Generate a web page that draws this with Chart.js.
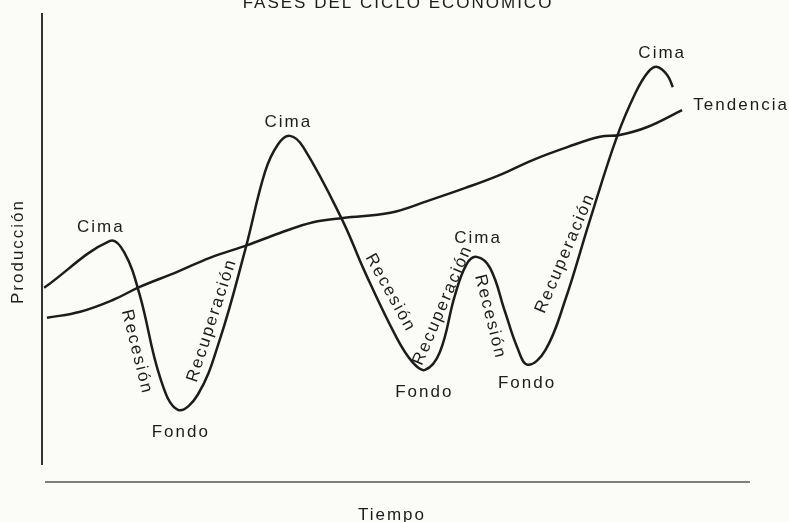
<!DOCTYPE html>
<html>
<head>
<meta charset="utf-8">
<script src="https://cdn.jsdelivr.net/npm/chart.js@4/dist/chart.umd.min.js"></script>
<style>
  html, body { margin: 0; padding: 0; background: #fbfbf7; }
  #wrap { width: 789px; height: 522px; }
</style>
</head>
<body>
<div id="wrap"><canvas id="chart" width="789" height="522"></canvas></div>
<script>
// time / output readings of the business cycle curve
const cycleTime = [0.3, 9.6, 11.6, 13.8, 16.7, 19.2, 22.0, 25.1, 28.7, 31.5, 33.3, 35.0, 36.9, 42.4, 45.6, 49.9, 52.3, 54.1, 56.2, 58.3, 60.0, 61.4, 63.3, 65.4, 67.1, 68.6, 71.1, 73.9, 77.4, 81.2, 83.8, 85.6, 86.9, 88.3, 89.1];
const cycleOutput = [41.4, 51.4, 49.0, 39.9, 22.2, 15.4, 18.6, 30.3, 49.5, 66.1, 71.9, 73.8, 71.4, 55.9, 44.8, 31.3, 25.6, 23.9, 27.7, 39.7, 46.5, 48.0, 45.6, 36.3, 28.8, 25.0, 28.1, 38.8, 55.9, 73.6, 82.9, 87.4, 88.5, 86.8, 84.2];

// long-run trend
const trendTime = [0.7, 5.4, 10.0, 13.8, 19.1, 23.7, 29.0, 33.6, 38.3, 42.5, 49.2, 54.8, 59.8, 64.7, 69.4, 74.2, 78.8, 81.6, 85.5, 90.4];
const trendOutput = [35.0, 36.3, 38.8, 41.6, 44.8, 47.8, 50.5, 53.1, 55.4, 56.3, 57.4, 60.1, 62.7, 65.5, 68.7, 71.4, 73.6, 74.0, 75.7, 79.3];

const chartTitle = 'FASES DEL CICLO ECONÓMICO';
const xTitle = 'Tiempo';
const yTitle = 'Producción';

// phase labels, placed in data units
const notes = [
  { text: 'Cima', x: 8.3, y: 54.4, angle: 0 },
  { text: 'Recesión', x: 13.4, y: 27.7, angle: 76 },
  { text: 'Fondo', x: 19.6, y: 10.7, angle: 0 },
  { text: 'Recuperación', x: 24.0, y: 34.5, angle: -72 },
  { text: 'Cima', x: 34.8, y: 76.6, angle: 0 },
  { text: 'Recesión', x: 49.2, y: 40.3, angle: 61 },
  { text: 'Fondo', x: 54.0, y: 19.2, angle: 0 },
  { text: 'Recuperación', x: 56.6, y: 37.7, angle: -67 },
  { text: 'Cima', x: 61.6, y: 52.0, angle: 0 },
  { text: 'Recesión', x: 63.3, y: 35.2, angle: 76 },
  { text: 'Fondo', x: 68.5, y: 21.1, angle: 0 },
  { text: 'Recuperación', x: 73.9, y: 48.8, angle: -67 },
  { text: 'Cima', x: 87.6, y: 91.5, angle: 0 },
  { text: 'Tendencia', x: 92.0, y: 80.4, angle: 0, align: 'left' },
];

const ink = '#1c1c1c';
const font = '17px "Liberation Sans", Arial, sans-serif';

const toPoints = (xs, ys) => xs.map((x, i) => ({ x, y: ys[i] }));

const frame = {
  id: 'frame',
  beforeDatasetsDraw(chart) {
    const { ctx, chartArea: a } = chart;
    ctx.save();
    ctx.strokeStyle = '#333';
    ctx.lineWidth = 2;
    ctx.beginPath();
    ctx.moveTo(a.left, a.top);
    ctx.lineTo(a.left, a.bottom - 17);
    ctx.stroke();
    ctx.strokeStyle = '#555';
    ctx.lineWidth = 1.5;
    ctx.beginPath();
    ctx.moveTo(a.left + 3, a.bottom);
    ctx.lineTo(a.right, a.bottom);
    ctx.stroke();

    ctx.fillStyle = ink;
    ctx.font = font;
    ctx.letterSpacing = '2px';
    ctx.textAlign = 'center';
    ctx.textBaseline = 'alphabetic';
    ctx.fillText(chartTitle, (a.left + a.right) / 2 + 2, 8);
    ctx.textBaseline = 'middle';
    ctx.fillText(xTitle, (a.left + a.right) / 2 - 4, a.bottom + 33);
    ctx.translate(a.left - 24, (a.top + a.bottom) / 2 + 4);
    ctx.rotate(-Math.PI / 2);
    ctx.fillText(yTitle, 0, 0);
    ctx.restore();
  },
  afterDatasetsDraw(chart) {
    const { ctx, scales: { x, y } } = chart;
    ctx.save();
    ctx.fillStyle = ink;
    ctx.font = font;
    ctx.letterSpacing = '2px';
    ctx.textBaseline = 'middle';
    notes.forEach(n => {
      ctx.save();
      ctx.translate(x.getPixelForValue(n.x), y.getPixelForValue(n.y));
      ctx.rotate(n.angle * Math.PI / 180);
      ctx.textAlign = n.align || 'center';
      ctx.fillText(n.text, 0, 0);
      ctx.restore();
    });
    ctx.restore();
  },
};

new Chart(document.getElementById('chart'), {
  type: 'scatter',
  data: {
    datasets: [
      {
        label: 'Tendencia',
        data: toPoints(trendTime, trendOutput),
        showLine: true,
        borderColor: ink,
        borderWidth: 2.5,
        pointRadius: 0,
        tension: 0.4,
      },
      {
        label: 'Ciclo',
        data: toPoints(cycleTime, cycleOutput),
        showLine: true,
        borderColor: ink,
        borderWidth: 2.5,
        pointRadius: 0,
        tension: 0.4,
      },
    ],
  },
  options: {
    responsive: false,
    animation: false,
    layout: { padding: { left: 42, top: 13, right: 39, bottom: 40 } },
    plugins: { legend: { display: false }, tooltip: { enabled: false } },
    scales: {
      x: { type: 'linear', min: 0, max: 100, display: false },
      y: { type: 'linear', min: 0, max: 100, display: false },
    },
  },
  plugins: [frame],
});
</script>
</body>
</html>
